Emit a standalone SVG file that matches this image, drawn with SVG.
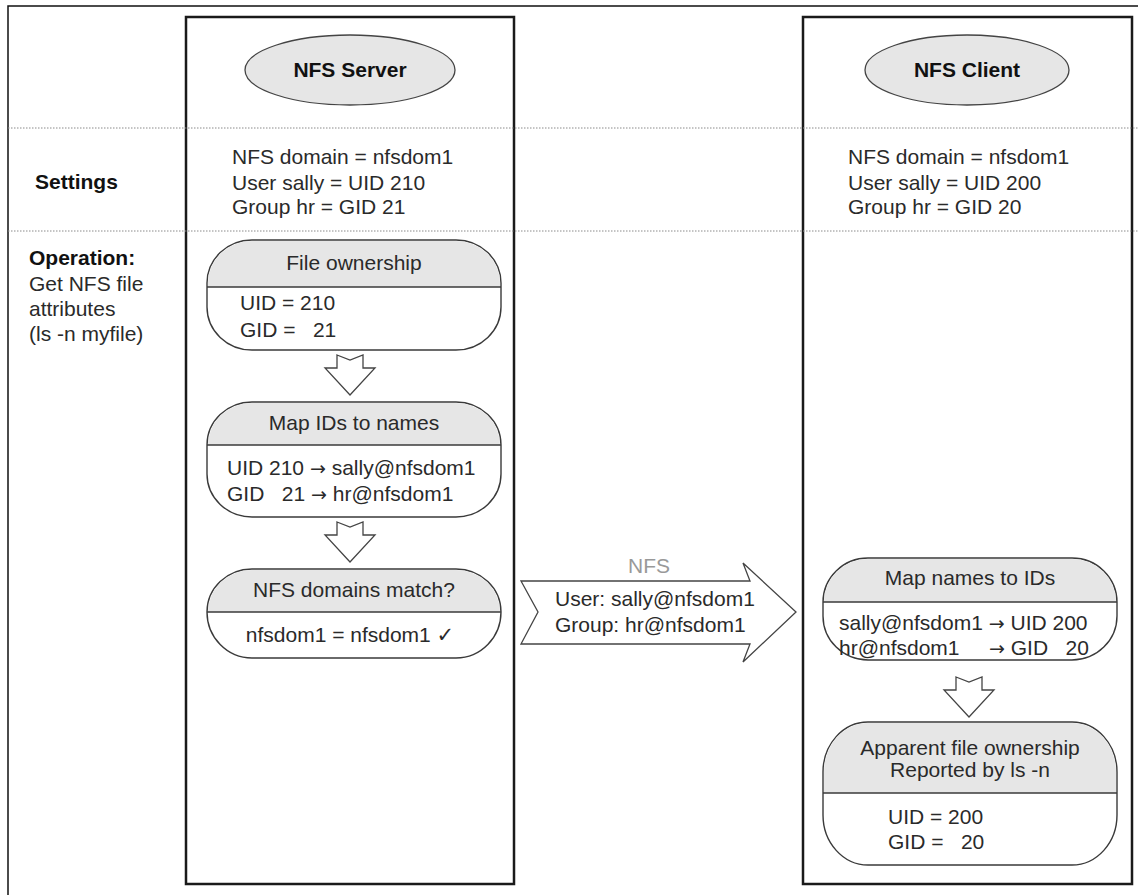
<svg xmlns="http://www.w3.org/2000/svg" width="1138" height="895" viewBox="0 0 1138 895" xml:space="preserve">
<style>
text{font-family:"Liberation Sans",Arial,"DejaVu Sans",sans-serif;font-size:21px;fill:#2a2a2a;white-space:pre}
.b{font-weight:bold;fill:#111}
.c{text-anchor:middle}
.ar{font-family:"DejaVu Sans",sans-serif;font-size:19px}
.col{fill:none;stroke:#1a1a1a;stroke-width:2.5}
.frame{stroke:#111;stroke-width:1.5;fill:none}
.dot{stroke:#8a8a8a;stroke-width:1;stroke-dasharray:1.5 1.5}
.box{fill:#fff;stroke:#3a3a3a;stroke-width:1.4}
.hdr{fill:#e6e6e6;stroke:none}
.sep{stroke:#3a3a3a;stroke-width:1.6}
.ell{fill:#e6e6e6;stroke:#444;stroke-width:1.3}
.arr{fill:#fff;stroke:#444;stroke-width:1.3;stroke-linejoin:miter}
.gray{fill:#999}
</style>
<rect width="1138" height="895" fill="#fff"/>
<g id="frame">
<path class="frame" d="M8,895 V6 H1138"/>
</g>
<g id="columns">
<rect class="col" x="186" y="17" width="328" height="867"/>
<rect class="col" x="803" y="17" width="329" height="867"/>
</g>
<g id="rows">
<line class="dot" x1="8" y1="128" x2="1138" y2="128"/>
<line class="dot" x1="8" y1="231" x2="1138" y2="231"/>
</g>
<g id="labels">
<text class="b" x="35" y="189">Settings</text>
<text class="b" x="29" y="265">Operation:</text>
<text x="29" y="291">Get NFS file</text>
<text x="29" y="316">attributes</text>
<text x="29" y="341">(ls -n myfile)</text>
</g>
<g id="nfs-server">
<ellipse class="ell" cx="350" cy="70" rx="105" ry="35"/>
<text class="b c" x="350" y="77">NFS Server</text>
</g>
<g id="nfs-client">
<ellipse class="ell" cx="967" cy="70" rx="102" ry="35"/>
<text class="b c" x="967" y="77">NFS Client</text>
</g>
<g id="server-settings">
<text x="232" y="164">NFS domain = nfsdom1</text>
<text x="232" y="190">User sally = UID 210</text>
<text x="232" y="214">Group hr = GID 21</text>
</g>
<g id="client-settings">
<text x="848" y="164">NFS domain = nfsdom1</text>
<text x="848" y="190">User sally = UID 200</text>
<text x="848" y="214">Group hr = GID 20</text>
</g>
<g id="file-ownership">
<path class="box" d="M252,240 H456 A45,43 0 0 1 501,283 V307 A45,43 0 0 1 456,350 H252 A45,43 0 0 1 207,307 V283 A45,43 0 0 1 252,240 Z"/>
<path class="hdr" d="M208,287 V283 A44,42 0 0 1 252,241 H456 A44,42 0 0 1 500,283 V287 Z"/>
<line class="sep" x1="207" y1="287" x2="501" y2="287"/>
<text class="c" x="354" y="270">File ownership</text>
<text x="240" y="310">UID = 210</text>
<text x="240" y="337">GID =   21</text>
</g>
<g id="map-ids">
<path class="box" d="M252,402 H456 A45,43 0 0 1 501,445 V474 A45,43 0 0 1 456,517 H252 A45,43 0 0 1 207,474 V445 A45,43 0 0 1 252,402 Z"/>
<path class="hdr" d="M208,445 A44,42 0 0 1 252,403 H456 A44,42 0 0 1 500,445 Z"/>
<line class="sep" x1="207" y1="445" x2="501" y2="445"/>
<text class="c" x="354" y="430">Map IDs to names</text>
<text x="227" y="475">UID 210 <tspan class="ar">→</tspan> sally@nfsdom1</text>
<text x="227" y="501">GID   21 <tspan class="ar">→</tspan> hr@nfsdom1</text>
</g>
<g id="domains-match">
<path class="box" d="M252,569 H456 A45,43 0 0 1 501,612 A45,46 0 0 1 456,658 H252 A45,46 0 0 1 207,612 A45,43 0 0 1 252,569 Z"/>
<path class="hdr" d="M208,612 A44,42 0 0 1 252,570 H456 A44,42 0 0 1 500,612 Z"/>
<line class="sep" x1="207" y1="612" x2="501" y2="612"/>
<text class="c" x="354" y="597">NFS domains match?</text>
<text class="c" x="350" y="642">nfsdom1 = nfsdom1 ✓</text>
</g>
<g id="map-names">
<path class="box" d="M868,558 H1072 A45,44 0 0 1 1117,602 V616 A45,44 0 0 1 1072,660 H868 A45,44 0 0 1 823,616 V602 A45,44 0 0 1 868,558 Z"/>
<path class="hdr" d="M824,602 A44,43 0 0 1 868,559 H1072 A44,43 0 0 1 1116,602 Z"/>
<line class="sep" x1="823" y1="602" x2="1117" y2="602"/>
<text class="c" x="970" y="585">Map names to IDs</text>
<text x="839" y="630">sally@nfsdom1 <tspan class="ar">→</tspan> UID 200</text>
<text x="839" y="655">hr@nfsdom1<tspan class="ar" x="989">→</tspan> GID   20</text>
</g>
<g id="apparent-ownership">
<path class="box" d="M868,722 H1072 A45,50 0 0 1 1117,772 V815 A45,50 0 0 1 1072,865 H868 A45,50 0 0 1 823,815 V772 A45,50 0 0 1 868,722 Z"/>
<path class="hdr" d="M824,793 V772 A44,49 0 0 1 868,723 H1072 A44,49 0 0 1 1116,772 V793 Z"/>
<line class="sep" x1="823" y1="793" x2="1117" y2="793"/>
<text class="c" x="970" y="755">Apparent file ownership</text>
<text class="c" x="970" y="777">Reported by ls -n</text>
<text x="888" y="824">UID = 200</text>
<text x="888" y="849">GID =   20</text>
</g>
<g id="connectors">
<polygon class="arr" points="337,355 350,360 363,355 363,368 375,368 350,395 325,368 337,368"/>
<polygon class="arr" points="337,522 350,527 363,522 363,535 375,535 350,562 325,535 337,535"/>
<polygon class="arr" points="956,677 969,682 982,677 982,690 994,690 969,717 944,690 956,690"/>
<g id="nfs-transfer">
<polygon class="arr" points="521,581 750,581 743,563 796,612 743,662 750,644 521,644 538,612"/>
<text class="c gray" x="649" y="573">NFS</text>
<text x="555" y="606">User: sally@nfsdom1</text>
<text x="555" y="632">Group: hr@nfsdom1</text>
</g>
</g>
</svg>
